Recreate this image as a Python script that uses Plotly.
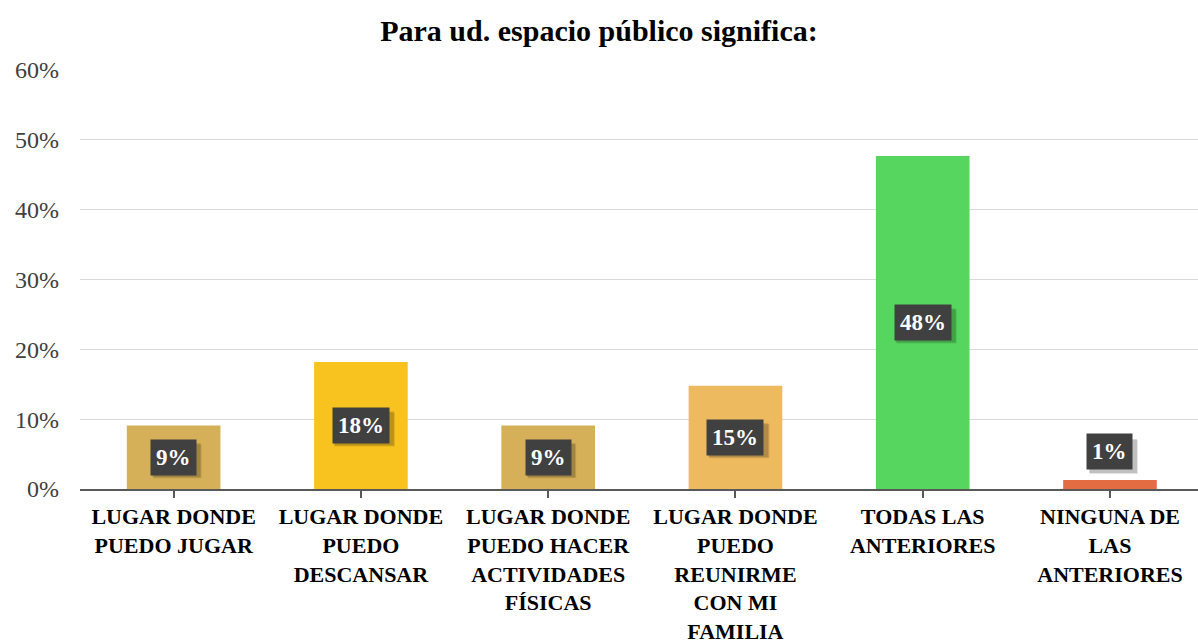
import plotly.graph_objects as go

# Survey answers and their shares (percent)
categories = [
    "LUGAR DONDE<br>PUEDO JUGAR",
    "LUGAR DONDE<br>PUEDO<br>DESCANSAR",
    "LUGAR DONDE<br>PUEDO HACER<br>ACTIVIDADES<br>FÍSICAS",
    "LUGAR DONDE<br>PUEDO<br>REUNIRME<br>CON MI<br>FAMILIA",
    "TODAS LAS<br>ANTERIORES",
    "NINGUNA DE<br>LAS<br>ANTERIORES",
]
values = [9.1, 18.2, 9.1, 14.8, 47.7, 1.3]
bar_colors = ["#D5B058", "#F8C21F", "#D5B058", "#EEBA5F", "#56D65F", "#E36C42"]
y_ticks = [0, 10, 20, 30, 40, 50, 60]
y_tick_text = [f"{t}%" for t in y_ticks]

FONT = "Liberation Serif"
x_pos = list(range(len(categories)))

fig = go.Figure(
    go.Bar(
        x=x_pos,
        y=values,
        width=0.5,
        marker=dict(color=bar_colors, line=dict(width=0)),
        hoverinfo="skip",
    )
)

# Value labels: dark boxes with a soft drop shadow (shadow drawn as a pixel-sized shape)
annotations = []
shapes = []
for xi, v in zip(x_pos, values):
    inside = v >= 5
    text = f"{v:.0f}%"
    half_w = 12 + 6 * len(text)
    if inside:
        y, yanchor, lift = v / 2, "middle", 0
        y_lo, y_hi = -17, 17
    else:
        y, yanchor, lift = v, "bottom", 10
        y_lo, y_hi = lift, lift + 34
    for off, alpha in ((4, 0.10), (3, 0.16)):
        shapes.append(dict(
            type="rect", xref="x", yref="y",
            xsizemode="pixel", ysizemode="pixel",
            xanchor=xi, yanchor=y,
            x0=-half_w + off, x1=half_w + off, y0=y_lo - off, y1=y_hi - off,
            fillcolor=f"rgba(0,0,0,{alpha})", line=dict(width=0), layer="above",
        ))
    annotations.append(dict(
        x=xi, y=y, xref="x", yref="y", yanchor=yanchor, showarrow=False,
        text=text, borderpad=5, bgcolor="#404040", yshift=lift,
        font=dict(family=FONT, size=23, color="white", weight="bold"),
    ))

fig.update_layout(
    width=1198,
    height=644,
    margin=dict(l=80, r=0, t=70, b=153),
    paper_bgcolor="white",
    plot_bgcolor="white",
    showlegend=False,
    title=dict(
        text="Para ud. espacio público significa:",
        x=0.5, xanchor="center", y=0.953, yanchor="middle",
        font=dict(family=FONT, size=30, color="black", weight="bold"),
    ),
    annotations=annotations,
    shapes=shapes,
    bargap=0.5,
)

fig.update_xaxes(
    tickmode="array",
    tickvals=x_pos,
    ticktext=categories,
    range=[-0.5, 5.47],
    tickson="boundaries",
    ticks="outside",
    ticklen=7,
    tickwidth=2,
    tickcolor="#595959",
    showline=True,
    linecolor="#595959",
    linewidth=2,
    showgrid=False,
    tickangle=0,
    tickfont=dict(family=FONT, size=22, color="black", weight="bold"),
    fixedrange=True,
)

fig.update_yaxes(
    range=[0, 60],
    tickmode="array",
    tickvals=y_ticks,
    ticktext=y_tick_text,
    showgrid=True,
    gridcolor="#D9D9D9",
    gridwidth=1,
    zeroline=False,
    showline=False,
    ticks="",
    ticklabelstandoff=20,
    tickfont=dict(family=FONT, size=24, color="#404040"),
    fixedrange=True,
)

fig.write_html("out.html", config={"displayModeBar": False})
